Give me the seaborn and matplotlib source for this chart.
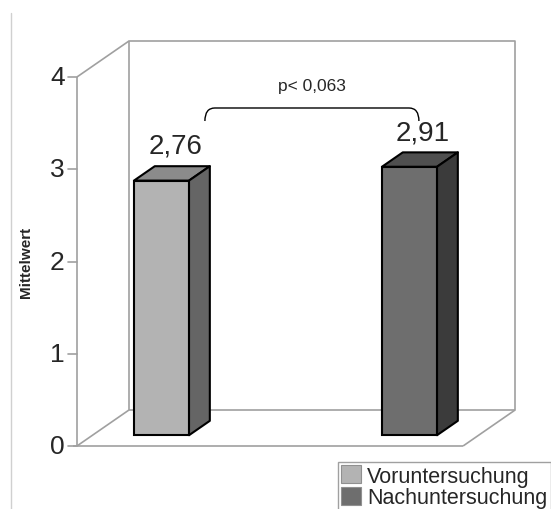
import seaborn as sns
import matplotlib.pyplot as plt
import pandas as pd
import numpy as np
from matplotlib.patches import Polygon, PathPatch, Patch
from matplotlib.path import Path
from matplotlib.lines import Line2D

gruppen = ["Voruntersuchung", "Nachuntersuchung"]
mittelwerte = [2.76, 2.91]
beschriftung = ["2,76", "2,91"]
y_ticks = [0, 1, 2, 3, 4]
p_text = "p< 0,063"
y_titel = "Mittelwert"

front_farben = ["#b3b3b3", "#6e6e6e"]
top_farben = ["#8b8b8b", "#4f4f4f"]
seiten_farben = ["#656565", "#3b3b3b"]
wand = "#a0a0a0"

sns.set_style("white")
plt.rcParams["font.family"] = ["Liberation Sans", "DejaVu Sans"]

df = pd.DataFrame({"Gruppe": gruppen, "Mittelwert": mittelwerte})

fig = plt.figure(figsize=(5.51, 5.10), dpi=100)
ax = fig.add_axes([0, 0, 1, 1])

# pseudo-3D: Versatz fuer volle Tiefe, in Dateneinheiten
DX, DY = 0.2097, 0.390
d0, dicke = 0.3, 0.4          # Balken liegen zwischen Tiefe 0.3 und 0.7
XL, XR = -0.341, 1.216        # vordere Wandkanten links/rechts
ymax = y_ticks[-1]

# Waende / Boden
def linie(xs, ys):
    ax.plot(xs, ys, color=wand, lw=1.2, zorder=1, solid_capstyle="butt")

linie([XL + DX, XR + DX, XR + DX, XL + DX, XL + DX], [DY, DY, ymax + DY, ymax + DY, DY])
linie([XL, XL], [0, ymax])
linie([XL, XL + DX], [ymax, ymax + DY])
linie([XL, XL + DX], [0, DY])
linie([XL - 0.015, XR], [0, 0])
linie([XR, XR + DX], [0, DY])

# Ticks an der vorderen Wand
for t in y_ticks:
    ax.plot([XL - 0.036, XL], [t, t], color=wand, lw=1.2, zorder=1)
    ax.text(XL - 0.05, t, str(t), ha="right", va="center", fontsize=19)

sns.barplot(data=df, x="Gruppe", y="Mittelwert", hue="Gruppe",
            palette=front_farben, width=0.222, bottom=d0 * DY,
            edgecolor="black", linewidth=1.5, errorbar=None,
            legend=False, ax=ax, zorder=3)

bars = sorted(ax.patches, key=lambda p: p.get_x())
for i, p in enumerate(bars):
    x0, w = p.get_x(), p.get_width()
    y0, h = p.get_y(), p.get_height()
    x1, y1 = x0 + w, y0 + h
    ddx, ddy = dicke * DX, dicke * DY
    oben = [(x0, y1), (x1, y1), (x1 + ddx, y1 + ddy), (x0 + ddx, y1 + ddy)]
    seite = [(x1, y0), (x1, y1), (x1 + ddx, y1 + ddy), (x1 + ddx, y0 + ddy)]
    ax.add_patch(Polygon(oben, closed=True, fc=top_farben[i], ec="black",
                         lw=1.5, zorder=3, joinstyle="round"))
    ax.add_patch(Polygon(seite, closed=True, fc=seiten_farben[i], ec="black",
                         lw=1.5, zorder=3, joinstyle="round"))
    ax.text(x0 + w / 2 + 0.055, y1 + 0.3, beschriftung[i],
            ha="center", va="baseline", fontsize=20)

# Klammer mit p-Wert
bx0, bx1, by0, by1 = 0.175, 1.038, 3.523, 3.664
r = 0.04
verts = [(bx0, by0), (bx0, by1), (bx0 + r, by1), (bx1 - r, by1),
         (bx1, by1), (bx1, by0)]
codes = [Path.MOVETO, Path.CURVE3, Path.CURVE3, Path.LINETO,
         Path.CURVE3, Path.CURVE3]
ax.add_patch(PathPatch(Path(verts, codes), fc="none", ec="black", lw=1.0, zorder=4))
ax.text((bx0 + bx1) / 2, 3.913, p_text, ha="center", va="center", fontsize=12.5)

ax.text(-0.546, 2.0, y_titel, rotation=90, ha="center", va="center",
        fontsize=11, fontweight="bold")

handles = [Patch(fc=c, ec="#909090", lw=0.8) for c in front_farben]
ax.legend(handles, gruppen, loc="upper left", bbox_to_anchor=(338 / 551, 1 - 463 / 510),
          frameon=True, fancybox=False, edgecolor="#a0a0a0", framealpha=1,
          borderaxespad=0, handlelength=0.9, handleheight=0.9, handletextpad=0.3,
          labelspacing=0.02, borderpad=0.15, fontsize=15.5)

fig.add_artist(Line2D([11 / 551, 11 / 551], [0, 1 - 14 / 510], color="#d0d0d0", lw=1))

ax.set_xlim(-161.5 / 248, (551 - 161.5) / 248)
ax.set_ylim(-(510 - 447) / 92.25, 447 / 92.25)
ax.set_axis_off()

fig.savefig("out.png", dpi=100)
